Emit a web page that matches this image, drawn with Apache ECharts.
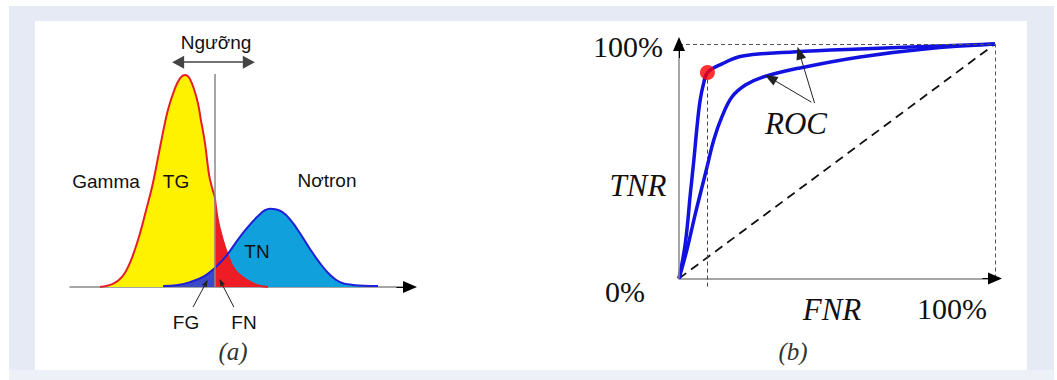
<!DOCTYPE html>
<html><head><meta charset="utf-8">
<script src="https://cdn.jsdelivr.net/npm/echarts@6/dist/echarts.min.js"></script>
<style>html,body{margin:0;padding:0;background:#fff}#c{width:1057px;height:380px}</style>
</head><body><div id="c"></div>
<script>
// ---------- Data (a): distributions ----------
const threshold = 42.6;
const gammaCurve = [[8.8,0],[12.6,1.2],[15.3,3.9],[17.6,9.3],[20.0,18.3],[22.4,30.0],[24.4,40.5],[26.5,54.5],[28.8,68.9],[30.9,77.4],[32.4,81.3],[33.8,82.5],[35.3,80.9],[37.4,72.8],[38.5,65.0],[39.7,56.0],[40.9,43.6],[41.8,38.5],[42.6,35.0],[43.5,26.1],[44.7,19.5],[46.2,13.2],[48.5,6.6],[52.1,2.7],[55.0,0.8],[58.2,0]];
const neutronCurve = [[27.4,0.4],[31.8,0.8],[35.3,1.9],[39.1,3.9],[42.6,7.4],[46.2,12.5],[50.0,19.5],[55.0,27.2],[58.8,30.4],[62.4,29.2],[65.3,25.3],[67.6,21.0],[70.6,14.8],[73.5,9.3],[76.5,4.7],[79.4,1.9],[83.2,0.8],[90.6,0.4]];
const thresholdTop = 82.9;
const rangeArrow = [[31.8,87.5],[52.6,87.5]];
const fgPointer = [[36.2,-7.8],[40.0,1.6]];
const fnPointer = [[48.2,-7.8],[44.4,1.9]];
const labelsA = ['Ngưỡng','Gamma','TG','Nơtron','TN','FG','FN','(a)'];

// ---------- Data (b): ROC ----------
const rocUpper = [[0,0],[2.0,15.0],[3.6,36.3],[4.7,50.5],[5.7,64.7],[6.7,76.1],[7.8,83.2],[9.0,87.8],[13.6,91.5],[20.2,94.9],[36.0,96.6],[57.2,97.9],[100,100]];
const rocLower = [[0,0],[2.5,12.2],[5.2,27.8],[7.3,39.1],[8.9,47.7],[11.0,59.1],[13.6,69.0],[16.8,77.5],[21.0,82.5],[26.3,85.8],[38.3,89.8],[57.3,94.5],[77.8,97.9],[100,100]];
const operatingPoint = [9.0, 87.8];
const rocPointers = [[[41.9,75.2],[28.9,85.5]],[[42.9,74.8],[38.1,96.2]]];
const tickLabelsB = ['0%','100%'];
const labelsB = ['TNR','FNR','ROC','(b)'];

const gammaLeft = gammaCurve.filter(p => p[0] <= threshold);
const gammaRight = gammaCurve.filter(p => p[0] >= threshold);
const neutronLeft = neutronCurve.filter(p => p[0] <= threshold);
const neutronRight = neutronCurve.filter(p => p[0] >= threshold);

const sans = 'Liberation Sans, Arial, sans-serif';
const serif = 'Liberation Serif, Times New Roman, serif';

function areaSeries(data, color) {
  return {type:'line', xAxisIndex:0, yAxisIndex:0, data, smooth:0.4, symbol:'none', silent:true,
    lineStyle:{width:0, opacity:0}, areaStyle:{color, opacity:1, origin:0}};
}
function lineSeries(data, color, w, xi) {
  return {type:'line', xAxisIndex:xi, yAxisIndex:xi, data, smooth:0.4, symbol:'none', silent:true, clip:false,
    lineStyle:{width:w, color}};
}
function seg(a, b, color, width, type, sym, size) {
  return [{coord:a, lineStyle:{color, width, type}, symbol:sym[0], symbolSize:size}, {coord:b, symbol:sym[1], symbolSize:size}];
}
function txt(text, x, y, font, fill) {
  return {type:'text', z:100, style:{text, x, y, font, fill: fill || '#111', textAlign:'center', textVerticalAlign:'middle', align:'center', verticalAlign:'middle'}};
}

const chart = echarts.init(document.getElementById('c'), null, {renderer:'svg'});
const option = {
  animation:false,
  backgroundColor:'#fff',
  grid:[
    {left:70, top:30, width:340, height:282.7},
    {left:679, top:44, width:316, height:246.2}
  ],
  xAxis:[
    {type:'value', gridIndex:0, min:0, max:100, axisLine:{show:true, onZero:true, lineStyle:{color:'#888', width:1.5}}, axisTick:{show:false}, axisLabel:{show:false}, splitLine:{show:false}},
    {type:'value', gridIndex:1, min:0, max:100, axisLine:{show:true, onZero:true, lineStyle:{color:'#888', width:1.5}}, axisTick:{show:false}, axisLabel:{show:false}, splitLine:{show:false}}
  ],
  yAxis:[
    {type:'value', gridIndex:0, min:-10, max:100, show:false},
    {type:'value', gridIndex:1, min:-5, max:100, axisLine:{show:false}, axisTick:{show:false}, axisLabel:{show:false}, splitLine:{show:false}}
  ],
  graphic:[
    {type:'rect', z:-10, silent:true, shape:{x:9, y:6, width:1045, height:374}, style:{fill:'#e6eaf5'}},
    {type:'rect', z:-9, silent:true, shape:{x:35, y:21, width:992, height:349}, style:{fill:'#ffffff'}},
    {type:'rect', z:-9, silent:true, shape:{x:9, y:370, width:1045, height:10}, style:{fill:'#eef0f7'}},
    txt(labelsA[0], 216, 42, '19px ' + sans),
    txt(labelsA[1], 106, 181, '19px ' + sans),
    txt(labelsA[2], 176, 181, '19px ' + sans),
    txt(labelsA[3], 327, 180, '19px ' + sans),
    txt(labelsA[4], 257, 251, '19px ' + sans),
    txt(labelsA[5], 186, 322, '19px ' + sans),
    txt(labelsA[6], 244, 322, '19px ' + sans),
    txt(labelsA[7], 233, 351, 'italic 25px ' + serif, '#333'),
    txt(tickLabelsB[1], 628, 46, '30px ' + serif),
    txt(tickLabelsB[0], 625, 291, '30px ' + serif),
    txt(tickLabelsB[1], 952, 308, '30px ' + serif),
    txt(labelsB[0], 638, 185, 'italic 31px ' + serif),
    txt(labelsB[1], 832, 309, 'italic 31px ' + serif),
    txt(labelsB[2], 796, 123, 'italic 31px ' + serif),
    txt(labelsB[3], 793, 351, 'italic 25px ' + serif, '#333')
  ],
  series:[
    areaSeries(neutronRight, '#10a0dc'),
    areaSeries(gammaLeft, '#fff200'),
    areaSeries(gammaRight, '#ee1c25'),
    areaSeries(neutronLeft, '#3b4bc4'),
    lineSeries(gammaLeft, '#e51f26', 2, 0),
    lineSeries(gammaRight, '#e51f26', 2, 0),
    lineSeries(neutronLeft, '#1f1fd8', 2, 0),
    Object.assign(lineSeries(neutronRight, '#1f1fd8', 2, 0), {
      markLine:{silent:true, animation:false, label:{show:false}, data:[
        seg([threshold,0],[threshold,thresholdTop], '#888', 1.5, 'solid', ['none','none'], 0),
        seg(rangeArrow[0], rangeArrow[1], '#444', 1.5, 'solid', ['triangle','triangle'], [13,12]),
        seg(fgPointer[0], fgPointer[1], '#222', 1, 'solid', ['none','triangle'], [5,7]),
        seg(fnPointer[0], fnPointer[1], '#222', 1, 'solid', ['none','triangle'], [5,7]),
        seg([96,0],[100,0], '#000', 1, 'solid', ['none','triangle'], [12,14])
      ]}
    }),
    // ROC panel
    Object.assign(lineSeries([[0,0],[100,100]], '#111', 1.8, 1), {smooth:false, lineStyle:{width:1.8, color:'#111', type:[9,6]},
      markLine:{silent:true, animation:false, label:{show:false}, data:[
        seg([0,0],[0,100], '#888', 1.5, 'solid', ['none','none'], 0),
        seg([0,100],[100,100], '#555', 1, [4,3], ['none','none'], 0),
        seg([100,0],[100,100], '#555', 1, [4,3], ['none','none'], 0),
        seg([operatingPoint[0],operatingPoint[1]],[operatingPoint[0],-3.5], '#444', 1, [4,3], ['none','none'], 0),
        seg(rocPointers[0][0], rocPointers[0][1], '#222', 1, 'solid', ['none','triangle'], [10,13]),
        seg(rocPointers[1][0], rocPointers[1][1], '#222', 1, 'solid', ['none','triangle'], [10,13]),
        seg([0,94],[0,100], '#000', 1, 'solid', ['none','triangle'], [12,14]),
        seg([96,0],[100,0], '#000', 1, 'solid', ['none','triangle'], [12,14])
      ]}}),
    lineSeries(rocLower, '#1212e0', 3.5, 1),
    lineSeries(rocUpper, '#1212e0', 3.5, 1),
    {type:'scatter', xAxisIndex:1, yAxisIndex:1, data:[operatingPoint], symbolSize:15, itemStyle:{color:'#ff0000'}, silent:true, z:5}
  ]
};
chart.setOption(option);
</script></body></html>
